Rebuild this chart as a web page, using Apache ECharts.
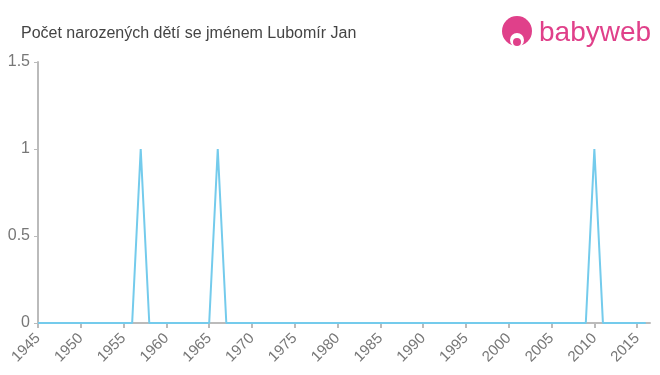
<!DOCTYPE html>
<html>
<head>
<meta charset="utf-8">
<script src="https://cdn.jsdelivr.net/npm/echarts@6/dist/echarts.min.js"></script>
<style>html,body{margin:0;padding:0;background:#fff}#c{width:660px;height:375px}</style>
</head>
<body>
<div id="c"></div>
<script>
const titleText = "Počet narozených dětí se jménem Lubomír Jan";
const years = [];
for (let y = 1945; y <= 2016; y++) years.push(y);
const peakYears = [1957, 1966, 2010];
const peakValues = [1, 1, 1];
const counts = years.map(y => { const i = peakYears.indexOf(y); return i >= 0 ? peakValues[i] : 0; });
const yTicks = [0, 0.5, 1, 1.5];

const chart = echarts.init(document.getElementById('c'));
chart.setOption({
  animation: false,
  backgroundColor: '#fff',
  title: {
    text: titleText, left: 16, top: 21,
    textStyle: { fontFamily: 'Liberation Sans, Arial, sans-serif', fontSize: 16, fontWeight: 'normal', color: '#444' }
  },
  graphic: [
    { type: 'circle', shape: { cx: 517, cy: 31, r: 15 }, style: { fill: '#e0408a' } },
    { type: 'circle', shape: { cx: 517, cy: 40, r: 7 }, style: { fill: '#fff' } },
    { type: 'circle', shape: { cx: 517, cy: 42, r: 4 }, style: { fill: '#e0408a' } },
    { type: 'text', left: 539, top: 19, style: { text: 'babyweb', fill: '#e0408a', font: '28px "Liberation Sans", Arial, sans-serif' } }
  ],
  grid: { left: 38, right: 10, top: 62, bottom: 52, containLabel: false },
  xAxis: {
    type: 'value', min: 1945, max: 2016.5, interval: 5,
    axisLine: { lineStyle: { color: '#bbb', width: 2 } },
    axisTick: { show: true, length: 5, lineStyle: { color: '#bbb', width: 2 } },
    splitLine: { show: false },
    axisLabel: { rotate: 45, color: '#777', fontSize: 15, fontFamily: 'Liberation Sans, Arial, sans-serif', showMaxLabel: false, margin: 13,
      formatter: v => String(v) }
  },
  yAxis: {
    type: 'value', min: 0, max: 1.5, interval: 0.5,
    axisLine: { show: true, lineStyle: { color: '#bbb', width: 2 } },
    axisTick: { show: true, length: 4, lineStyle: { color: '#bbb', width: 1 } },
    splitLine: { show: false },
    axisLabel: { color: '#777', fontSize: 16, fontFamily: 'Liberation Sans, Arial, sans-serif', margin: 8 }
  },
  series: [{
    type: 'line', data: years.map((y, i) => [y, counts[i]]),
    showSymbol: false, symbol: 'none',
    lineStyle: { color: '#74cbec', width: 2 }
  }]
});
</script>
</body>
</html>
